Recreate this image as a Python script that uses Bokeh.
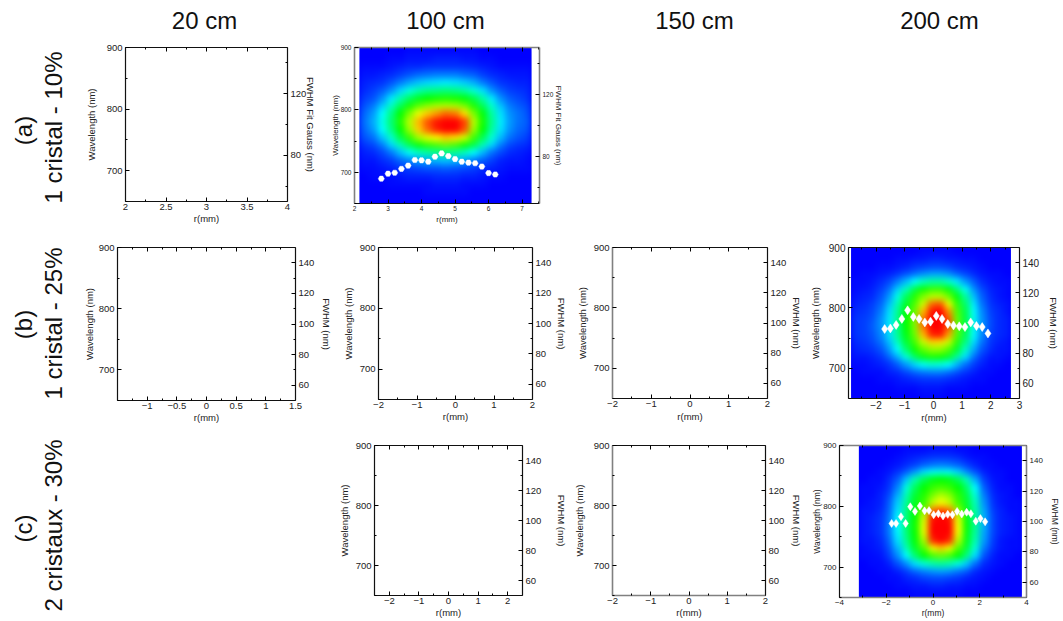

import numpy as np
from bokeh.core.properties import value
from bokeh.document import Document
from bokeh.embed import file_html
from bokeh.layouts import column, row
from bokeh.models import CustomJS, FixedTicker, LinearAxis, LinearColorMapper, Range1d
from bokeh.plotting import figure
from bokeh.resources import INLINE

FONT = "Liberation Sans"

COLUMN_TITLES = ["20 cm", "100 cm", "150 cm", "200 cm"]
ROW_TAGS = ["(a)", "(b)", "(c)"]
ROW_NAMES = ["1 cristal - 10%", "1 cristal - 25%", "2 cristaux - 30%"]

# heat maps: rows from 900 nm down to 650 nm, values on a 0 (blue) - 100 (red) scale
heat_a = [
[0,0,0,0,0,1,1,1,1,1,1,1,1,0,0,0,0,0,0],
[0,0,0,1,1,2,2,2,3,3,3,2,2,1,1,0,0,0,0],
[1,1,1,2,3,4,4,5,5,5,5,5,4,3,2,1,1,1,1],
[2,2,3,4,6,8,10,11,12,12,12,10,9,6,4,3,2,2,2],
[3,4,5,8,12,16,19,21,22,23,22,20,17,12,8,5,4,3,3],
[4,6,9,14,21,28,33,36,37,38,37,34,29,22,14,9,6,5,4],
[6,8,14,23,33,41,47,50,52,53,52,49,43,34,23,14,9,7,5],
[8,12,20,31,42,52,59,64,67,68,67,62,53,42,30,19,12,9,7],
[10,15,25,37,50,62,73,80,85,90,88,78,62,49,34,22,14,11,8],
[11,17,27,39,53,68,82,92,98,100,100,94,68,52,36,23,15,11,9],
[10,15,25,37,50,65,80,90,97,100,100,92,65,50,34,22,14,10,8],
[8,11,19,30,43,55,66,72,76,80,78,70,56,42,29,18,11,8,6],
[5,7,12,21,32,42,49,54,57,60,57,51,43,32,21,12,7,5,4],
[3,4,7,12,19,26,31,34,36,37,35,31,25,18,11,7,4,3,2],
[2,2,4,6,10,13,16,17,18,19,18,16,12,9,6,3,2,2,1],
[1,1,2,3,5,6,7,8,8,9,8,7,6,4,3,2,1,1,1],
[0,1,1,1,2,3,3,3,4,4,4,3,3,2,1,1,0,0,0],
[0,0,0,1,1,1,1,1,2,2,2,1,1,1,0,0,0,0,0],
[0,0,0,0,0,0,0,1,1,1,1,1,0,0,0,0,0,0,0],
[0,0,0,0,0,0,0,0,0,0,0,0,0,0,0,0,0,0,0],
]
heat_b = [
[0,0,0,0,0,0,0,0,1,1,1,1,0,0,0,0,0,0,0],
[0,0,0,0,0,1,1,2,2,3,3,2,2,1,1,0,0,0,0],
[0,0,0,1,1,2,3,5,6,7,7,6,4,3,2,1,0,0,0],
[0,1,1,2,3,5,8,11,14,16,16,14,10,7,4,2,1,1,0],
[1,1,2,4,7,12,18,25,31,34,34,30,23,15,9,4,2,1,1],
[1,2,3,6,11,20,31,43,51,55,55,49,38,26,14,7,3,2,1],
[2,3,4,8,15,27,41,53,62,68,68,61,49,35,19,9,4,2,1],
[3,4,6,10,19,32,46,57,70,90,92,74,55,40,23,11,5,3,2],
[4,5,7,12,22,35,49,60,82,98,100,86,58,43,25,13,6,4,2],
[5,6,8,14,23,36,50,62,88,100,100,92,60,44,26,14,7,4,3],
[5,6,9,14,23,36,50,62,88,100,100,92,60,44,26,14,7,4,3],
[5,6,8,13,22,35,48,60,82,97,98,84,58,42,25,13,6,4,3],
[4,5,7,11,19,31,45,56,69,79,78,70,54,38,22,11,5,3,2],
[3,4,5,8,15,25,39,51,59,64,64,58,46,31,17,8,4,2,2],
[2,2,3,5,10,17,28,40,48,52,51,46,35,22,11,5,2,2,1],
[1,1,2,3,5,9,15,21,26,29,28,25,18,11,6,3,1,1,0],
[0,1,1,1,3,4,7,10,12,13,13,11,8,5,3,1,1,0,0],
[0,0,0,1,1,2,3,4,5,5,5,4,3,2,1,1,0,0,0],
[0,0,0,0,0,1,1,1,2,2,2,1,1,1,0,0,0,0,0],
[0,0,0,0,0,0,0,0,1,1,1,0,0,0,0,0,0,0,0],
]
heat_c = [
[0,0,0,0,0,1,1,1,2,2,2,1,1,0,0,0,0,0,0],
[0,0,0,0,1,2,3,4,5,5,5,4,2,1,1,0,0,0,0],
[0,0,0,1,2,4,6,9,11,12,11,9,6,3,1,1,0,0,0],
[0,0,1,2,5,9,15,22,26,27,26,21,14,8,3,1,1,0,0],
[0,1,1,4,9,19,33,42,48,50,48,42,32,17,6,2,1,0,0],
[1,1,2,5,13,28,41,50,55,57,55,50,40,25,9,3,1,1,0],
[1,1,3,7,17,32,45,53,61,67,63,54,44,29,12,4,2,1,0],
[1,2,3,9,20,35,47,55,68,74,69,56,46,32,14,5,2,1,1],
[2,2,4,10,22,37,49,62,88,92,88,64,48,34,16,6,3,1,1],
[2,3,5,11,24,38,50,70,98,100,98,72,49,35,17,7,3,2,1],
[2,3,5,12,25,39,51,72,100,100,100,74,50,36,17,7,3,2,1],
[2,3,5,12,24,38,50,72,100,100,100,74,49,35,16,7,3,2,1],
[2,2,4,10,22,36,49,66,96,100,96,68,48,33,15,6,2,1,1],
[1,2,3,8,18,32,46,58,74,80,74,58,45,29,12,5,2,1,1],
[1,1,2,6,14,25,39,50,57,60,57,50,38,22,8,3,1,1,0],
[0,1,1,3,8,14,22,29,33,35,33,28,20,11,4,2,1,0,0],
[0,0,1,1,3,6,10,13,15,16,15,12,9,4,2,1,0,0,0],
[0,0,0,1,1,3,4,6,7,7,6,5,3,2,1,0,0,0,0],
[0,0,0,0,1,1,2,2,3,3,2,2,1,1,0,0,0,0,0],
[0,0,0,0,0,0,1,1,1,1,1,1,0,0,0,0,0,0,0],
]

# FWHM points (r in mm, FWHM in nm)
r_a = [2.8,3.0,3.2,3.4,3.6,3.8,4.0,4.2,4.4,4.6,4.8,5.0,5.2,5.4,5.6,5.8,6.0,6.2]
fwhm_a = [65.9,69.1,69.7,72.2,74.3,77.9,77.7,76.8,80.0,82.1,80.4,78.5,76.8,76.2,75.8,73.7,69.5,68.6]
r_b = [-1.7,-1.5,-1.3,-1.1,-0.9,-0.7,-0.5,-0.3,-0.1,0.1,0.3,0.5,0.7,0.9,1.1,1.3,1.5,1.7,1.9]
fwhm_b = [96.0,96.4,98.7,102.7,108.4,104.0,102.7,100.4,100.9,104.7,102.7,99.3,98.4,97.8,97.3,100.4,98.0,97.3,93.1]
r_c = [-1.77,-1.58,-1.37,-1.17,-0.97,-0.77,-0.56,-0.36,-0.17,0.03,0.23,0.43,0.63,0.83,1.03,1.23,1.44,1.62,1.83,2.03,2.23]
fwhm_c = [98.7,98.7,103.2,98.7,109.7,106.6,110.2,107.0,107.2,104.4,105.1,103.6,104.7,104.4,106.6,104.9,106.1,105.1,100.2,101.9,99.8]

wave_ticks = [700, 800, 900]
wave_minor = [650, 750, 850]
fwhm_ticks = [60, 80, 100, 120, 140]
fwhm_minor = [70, 90, 110, 130]
fwhm_ticks_a = [80, 120]
fwhm_minor_a = [60, 100, 140]

WAVE = "Wavelength (nm)"
FW = "FWHM (nm)"
FWG = "FWHM Fit Gauss (nm)"

def colour(v):
    stops = [(0, 0, 255), (0, 255, 255), (0, 255, 0), (255, 255, 0), (255, 0, 0)]
    t = v / 25.0
    i = min(int(t), 3)
    f = t - i
    return "#%02x%02x%02x" % tuple(int(round(a + (b - a) * f)) for a, b in zip(stops[i], stops[i + 1]))

MAPPER = LinearColorMapper(palette=[colour(v) for v in range(101)], low=0, high=100)

def title_strip(l, r, t, b, items):
    f = figure(width=r - l, height=b - t, x_range=Range1d(l, r), y_range=Range1d(b, t),
               x_axis_type=None, y_axis_type=None, toolbar_location=None, output_backend="svg",
               min_border=0, outline_line_color=None)
    for text, x, y, size in items:
        f.text(x=[x], y=[y], text=[text], text_font=value(FONT), text_font_size=value(f"{size}px"),
               text_align="center", text_baseline="middle", text_color="#111111")
    return f

def rotated_strip(l, r, t, b, text, cx, cy, size=24):
    edge = cx + 13 if cx + 13 < r else r - 1
    f = figure(width=r - l, height=b - t, x_range=Range1d(0, 1), y_range=Range1d(0, 1),
               x_axis_type=None, y_axis_type=None, toolbar_location=None, output_backend="svg",
               min_border_left=edge - l, min_border_right=r - edge - 1,
               min_border_top=cy - t - 1, min_border_bottom=b - cy - 1, outline_line_color=None)
    ax = LinearAxis(ticker=FixedTicker(ticks=[]), axis_label=text, axis_line_color=None,
                    major_tick_line_color=None, minor_tick_line_color=None, axis_label_standoff=0,
                    axis_label_text_font=FONT, axis_label_text_font_size=f"{size}px",
                    axis_label_text_font_style="normal", axis_label_text_color="#111111")
    f.add_layout(ax, "left")
    return column(f, spacing=0)

def fmt(v):
    s = f"{abs(v):g}"
    return ("\u2212" + s) if v < 0 else s

def panel(box, frame, xr, xt, xm, lab_l, lab_r, lab_b, tick_fs, lab_fs, right_title=FW,
          rt=fwhm_ticks, rm=fwhm_minor, heat=None, heat_x=None, pts=None, marker="diamond", msize=8, gray=()):
    bl, bt, br, bb = box
    fl, ft, fr, fb = frame
    f = figure(width=br - bl, height=bb - bt, x_range=Range1d(*xr), y_range=Range1d(650, 900),
               x_axis_type=None, y_axis_type=None, toolbar_location=None, output_backend="svg",
               min_border_left=round(fl - bl), min_border_right=round(br - fr),
               min_border_top=round(ft - bt), min_border_bottom=round(bb - fb),
               outline_line_color=None)
    f.extra_y_ranges = {"fwhm": Range1d(50, 150)}
    if heat is not None:
        f.quad(left=heat_x[0], right=heat_x[1], bottom=650, top=900, fill_color=colour(0), line_color=None)
        f.image(image=[np.array(heat[::-1], dtype=float)], x=heat_x[0], y=650,
                dw=heat_x[1] - heat_x[0], dh=250, color_mapper=MAPPER)
    if pts is not None:
        f.scatter(x=pts[0], y=pts[1], y_range_name="fwhm", marker=marker, size=msize,
                  fill_color="white", line_color="white", line_width=0.5)
    tw = 3 * 0.556 * tick_fs
    common = dict(major_tick_in=4, major_tick_out=0, minor_tick_in=2, minor_tick_out=0,
                  major_label_text_font=FONT, major_label_text_font_size=f"{tick_fs}px",
                  major_label_text_color="#222222", axis_label_text_font=FONT,
                  axis_label_text_font_size=f"{lab_fs}px", axis_label_text_font_style="normal",
                  axis_label_text_color="#222222", major_label_standoff=3)
    def style(side):
        return dict(axis_line_color="#808080", axis_line_width=1.6) if side in gray else dict(axis_line_color="#111111", axis_line_width=1.2)

    below = LinearAxis(ticker=FixedTicker(ticks=list(xt), minor_ticks=list(xm)),
                       major_label_overrides={v: fmt(v) for v in xt},
                       axis_label="r(mm)",
                       axis_label_standoff=max(0, round(lab_b - fb - 3 - tick_fs - 0.6 * lab_fs)),
                       **{**common, "major_label_standoff": 2}, **style("below"))
    f.add_layout(below, "below")
    above = LinearAxis(ticker=FixedTicker(ticks=list(xt), minor_ticks=list(xm)),
                       major_label_text_color=None, major_tick_in=4, major_tick_out=0,
                       minor_tick_in=2, minor_tick_out=0, **style("above"))
    f.add_layout(above, "above")
    left = LinearAxis(ticker=FixedTicker(ticks=wave_ticks, minor_ticks=wave_minor), axis_label=WAVE,
                      axis_label_standoff=round(fl - lab_l - 3 - tw - 0.6 * lab_fs),
                      **common, **style("left"))
    f.add_layout(left, "left")
    right = LinearAxis(y_range_name="fwhm", ticker=FixedTicker(ticks=list(rt), minor_ticks=list(rm)),
                       axis_label=right_title,
                       axis_label_standoff=round(lab_r - fr - 3 - tw - 0.3 * lab_fs),
                       **common, **style("right"))
    f.add_layout(right, "right")
    return column(f, spacing=0)

def steps(a, b, s):
    out, v = [], a
    while v <= b + 1e-9:
        out.append(int(v) if float(v).is_integer() else round(v, 3))
        v += s
    return out

header = title_strip(0, 1062, 0, 40, [
    (COLUMN_TITLES[0], 204, 20, 24), (COLUMN_TITLES[1], 445, 20, 24),
    (COLUMN_TITLES[2], 694, 20, 24), (COLUMN_TITLES[3], 939, 20, 24)])

tag_a = rotated_strip(0, 38, 40, 230, ROW_TAGS[0], 23, 130)
name_a = rotated_strip(38, 80, 40, 230, ROW_NAMES[0], 52, 127)
tag_b = rotated_strip(0, 38, 230, 430, ROW_TAGS[1], 23, 324)
name_b = rotated_strip(38, 80, 230, 430, ROW_NAMES[1], 52, 323)
tag_c = rotated_strip(0, 38, 430, 620, ROW_TAGS[2], 23, 528)
name_c = rotated_strip(38, 335, 430, 620, ROW_NAMES[2], 52, 525)

a20 = panel((80, 40, 325, 230), (125, 47, 287, 201), (2, 4), steps(2, 4, .5), steps(2.25, 3.75, .5),
            93, 305, 217, 9.5, 9.5, FWG, fwhm_ticks_a, fwhm_minor_a)
a100 = panel((325, 40, 580, 230), (354, 47, 539, 203), (2, 7.52), steps(2, 7, 1), steps(2.5, 6.5, 1) + [7.5],
             337, 553, 218, 6.5, 8, FWG, fwhm_ticks_a, fwhm_minor_a,
             heat=heat_a, heat_x=(2.15, 7.28), pts=(r_a, fwhm_a), marker="hex", msize=6, gray=("above", "left", "right"))
b20 = panel((80, 230, 335, 430), (117, 247, 299, 400), (-1.5, 1.5), steps(-1, 1.5, .5), steps(-1.25, 1.25, .5) + [-1.5],
            91, 325, 417, 9.5, 9.5)
b100 = panel((335, 230, 570, 430), (378, 247, 537, 399), (-2, 2), steps(-2, 2, 1), steps(-1.5, 1.5, 1),
             350, 561, 417, 9.5, 9.5)
b150 = panel((570, 230, 805, 430), (612, 247, 772, 398), (-2, 2), steps(-2, 2, 1), steps(-1.5, 1.5, 1),
             584, 796, 417, 9.5, 9.5, gray=("left",))
b200 = panel((805, 230, 1062, 430), (848, 247, 1030, 398), (-2.96, 3), steps(-2, 3, 1), steps(-2.5, 2.5, 1),
             818, 1059, 417, 10, 9.5, heat=heat_b, heat_x=(-2.87, 2.7), pts=(r_b, fwhm_b), marker="diamond", msize=9)
c100 = panel((335, 430, 570, 620), (374, 445, 532, 597), (-2.5, 2.5), steps(-2, 2, 1), steps(-2.5, 2.5, 1),
             346, 566, 614, 9.5, 9.5)
c150 = panel((570, 430, 805, 620), (611, 445, 771, 598), (-2, 2), steps(-2, 2, 1), steps(-1.5, 1.5, 1),
             580, 797, 615, 9.5, 9.5, gray=("below", "left"))
c200 = panel((805, 430, 1062, 620), (839, 445, 1038, 603), (-4, 4), steps(-4, 4, 2), steps(-3, 3, 2),
             820, 1061, 615, 8, 8.5, heat=heat_c, heat_x=(-3.17, 3.8), pts=(r_c, fwhm_c), marker="diamond", msize=8,
             gray=("above", "below", "right"))

page = column(header,
              row(tag_a, name_a, a20, a100, spacing=0),
              row(tag_b, name_b, b20, b100, b150, b200, spacing=0),
              row(tag_c, name_c, c100, c150, c200, spacing=0),
              spacing=0)

doc = Document()
doc.add_root(page)
doc.js_on_event("document_ready", CustomJS(code="""
function walk(root) {
  root.querySelectorAll('*').forEach(function (e) {
    if (e.tagName.toLowerCase() === 'image') {
      e.style.imageRendering = 'auto';
      e.style.filter = 'blur(3px)';
      e.style.clipPath = 'inset(0px)';
    }
    if (e.shadowRoot) { walk(e.shadowRoot); }
  });
}
[0, 100, 400, 1000, 2000].forEach(function (t) { setTimeout(function () { walk(document); }, t); });
"""))
open("out.html", "w").write(file_html(doc, INLINE))
